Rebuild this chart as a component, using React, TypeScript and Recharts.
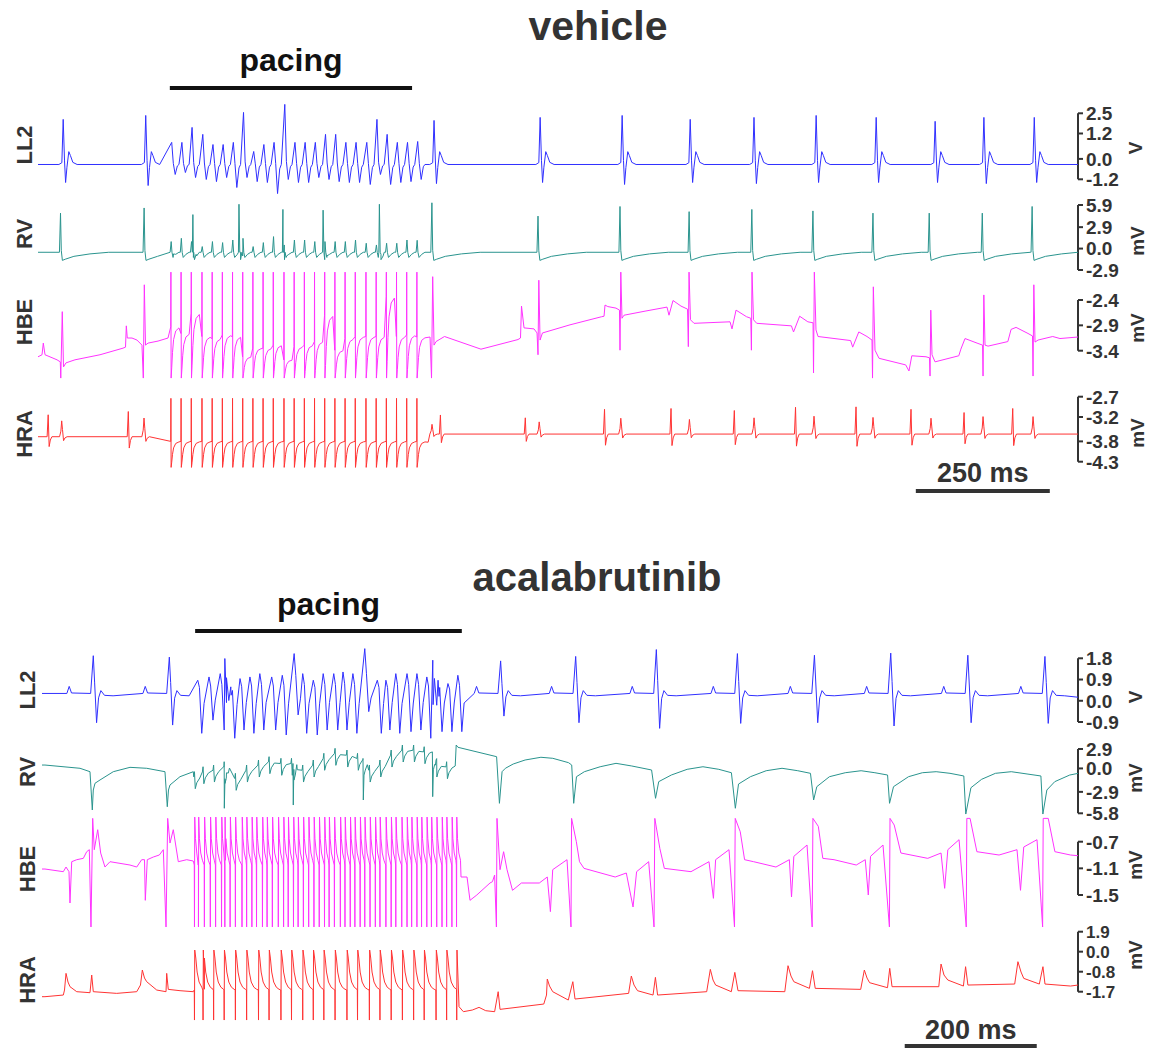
import { LineChart, Line, XAxis, YAxis, ReferenceLine } from 'recharts';

// Electrogram traces, time in ms from the left edge of each panel.
// Values are in the units of each trace's own scale (V for LL2, mV for the others).

type Pt = { t: number; v: number };

const INK = '#333333';
const FONT = '"Liberation Sans", Arial, Helvetica, sans-serif';
const BLUE = '#3030ff';
const TEAL = '#2a948e';
const MAGENTA = '#ff33ff';
const RED = '#ff3333';

// ---------------- vehicle ----------------
const vehTimeMax = 1940.6;
const vehPacingBar = [246, 698];
const vehScaleBar = [1638, 1888];
const vehPacing = [248, 267, 286, 306, 325, 344, 363, 382, 401, 420, 439, 459, 478, 497, 516, 535, 554, 573, 592, 612, 631, 650, 669, 688, 707];

const vehLL2Level = -0.37;
const vehLL2Beats = [47, 201, 739, 937, 1090, 1217, 1336, 1452, 1564, 1674, 1765, 1859];
const vehLL2Up = [2.53, 2.75, 2.47, 2.64, 2.75, 2.53, 2.64, 2.75, 2.64, 2.42, 2.64, 2.64];
const vehLL2Down = [1.01, 1.18, 1.07, 1.01, 1.12, 1.01, 1.07, 1.01, 1.01, 1.01, 1.07, 1.01];
const vehLL2PacedUp = [1.24, 1.24, 2.08, 1.69, 1.12, 1.12, 1.24, 2.92, 0.73, 1.12, 1.24, 3.37, 1.24, 1.24, 1.24, 1.69, 1.69, 1.24, 1.24, 1.24, 2.53, 1.69, 1.24, 1.24, 1.29];
const vehLL2PacedDown = [0.56, 0.45, 0.73, 0.84, 0.96, 0.73, 1.29, 0.73, 0.96, 1.01, 1.63, 0.84, 1.01, 1.01, 0.73, 0.84, 0.96, 1.01, 1.01, 1.12, 0.56, 1.12, 1.01, 0.96, 0.84];

const vehRVLevel = -0.5;
const vehRVBeats = [42, 198, 735, 933, 1086, 1215, 1332, 1446, 1558, 1663, 1762, 1855];
const vehRVUp = [5.3, 6.0, 6.7, 4.9, 6.2, 5.5, 5.8, 5.6, 5.3, 5.3, 5.3, 6.2];
const vehRVPacedUp = [1.45, 1.89, 1.45, 0.77, 1.45, 1.31, 1.66, 1.89, 0.77, 1.31, 2.12, 0.99, 1.66, 1.66, 1.45, 1.45, 1.45, 1.45, 1.66, 1.22, 0.99, 1.22, 1.22, 1.66, 1.62];
const vehRVCaptures = [289, 375, 457, 532, 637];
const vehRVCaptureUp = [5.1, 6.5, 5.8, 5.7, 6.5];

const vehHBELeft = [
  [0, -3.52], [7.5, -3.48], [9.9, -3.25], [13.1, -3.48], [35.5, -3.58], [41.6, -3.62], [42.5, -3.94], [45.3, -2.63],
  [47.6, -3.72], [52.2, -3.64], [69, -3.58], [115.7, -3.48], [158.6, -3.35], [163.3, -3.33], [164.8, -2.91], [166.6, -3.15],
  [175.4, -3.15], [184.7, -3.19], [194, -3.29], [196.5, -3.94], [198.4, -2.1], [200.6, -3.29], [205.3, -3.25], [224, -3.21],
  [242.6, -3.15],
];
const vehHBEPlateau = [-2.93, -3.06, -2.66, -3.12, -3.16, -3.09, -3.12, -3.52, -3.35, -3.35, -3.29, -3.58, -3.32, -3.29, -3.22, -2.7, -3.39, -3.16, -3.12, -3.12, -3.12, -2.33, -3.12, -3.09, -3.13];
const vehHBERight = [
  [731.5, -3.13], [734.3, -3.94], [736.5, -1.94], [739, -3.29], [742.7, -3.22], [758.5, -3.12], [826.6, -3.37], [895.7, -3.18],
  [900.3, -3.15], [902.2, -2.52], [906.9, -2.95], [925.5, -2.97], [931.2, -3.05], [933, -3.48], [934.5, -2.01], [936.8, -3.19],
  [941.3, -3.05], [992.7, -2.89], [1051.7, -2.73], [1056.2, -2.72], [1058, -2.5], [1063.3, -2.53], [1078.5, -2.56], [1085, -2.6],
  [1086, -3.39], [1087.5, -1.85], [1089.7, -2.76], [1093.5, -2.7], [1132.7, -2.62], [1173.7, -2.54], [1177.4, -2.7], [1184.9, -2.41],
  [1199.8, -2.52], [1212, -2.58], [1213.5, -3.32], [1214.8, -1.85], [1217.5, -2.79], [1224.1, -2.86], [1291.3, -2.83], [1295, -2.97],
  [1302.5, -2.6], [1322.1, -2.73], [1330, -2.76], [1331.2, -3.39], [1332.3, -1.85], [1335.1, -2.79], [1341.1, -2.86], [1405.8, -2.91],
  [1409.8, -3.03], [1421.2, -2.72], [1436.5, -2.83], [1446.2, -2.85], [1447.1, -3.84], [1448.6, -1.85], [1451.7, -2.99], [1455.5, -3.12],
  [1516.3, -3.2], [1520.2, -3.33], [1531.6, -3.03], [1546.9, -3.12], [1556.2, -3.19], [1557.2, -3.94], [1558.7, -2.14], [1561.8, -3.39],
  [1569.3, -3.55], [1619.1, -3.68], [1625.2, -3.8], [1630.5, -3.5], [1657, -3.52], [1663.5, -3.54], [1664.5, -3.9], [1665.9, -2.6],
  [1668.2, -3.48], [1673.8, -3.62], [1718.2, -3.5], [1722, -3.37], [1729.8, -3.16], [1752.2, -3.25], [1762.5, -3.29], [1763.4, -3.9],
  [1764.9, -2.3], [1767.1, -3.29], [1772.7, -3.31], [1809.7, -3.22], [1815.7, -2.98], [1825, -2.94], [1847.3, -3.06], [1855.7, -3.11],
  [1856.7, -3.9], [1858.2, -2.1], [1860.4, -3.23], [1866, -3.19], [1893.4, -3.12], [1907, -3.16], [1940.6, -3.13],
];

const vehHRABase = [[0, -3.685], [728, -3.82], [1940.6, -3.62]];
const vehHRAAtrial = [19, 168.5, 750.9, 909.3, 1057.1, 1181.2, 1299.3, 1413.5, 1526.4, 1629, 1728, 1818.8];
const vehHRAAtrialAmp = [0.54, 0.62, 0.47, 0.4, 0.61, 0.63, 0.58, 0.66, 0.67, 0.61, 0.53, 0.63];
const vehHRAFar = [44.2, 197.8, 735.2, 935.2, 1087.5, 1215.5, 1336.1, 1448, 1558.1, 1666.3, 1763.4, 1856.7];
const vehHRAFarAmp = [0.39, 0.46, 0.24, 0.3, 0.39, 0.36, 0.4, 0.44, 0.41, 0.39, 0.43, 0.43];
const vehHRALevel = [-3.685, -3.685, -3.62, -3.62, -3.62, -3.62, -3.62, -3.62, -3.62, -3.62, -3.62, -3.62];

// ---------------- acalabrutinib ----------------
const acaTimeMax = 1569.5;
const acaPacingBar = [232, 636];
const acaScaleBar = [1307, 1507];
const acaPacing = [231, 244, 260, 276, 293, 310, 328, 344, 362, 378, 395, 411, 427, 444, 462, 478, 496, 512, 529, 546, 563, 579, 597, 613];

const acaLL2Level = 0.31;
const acaLL2Beats = [77.7, 192.9, 694.8, 808.5, 930.7, 1053.5, 1170.2, 1285.8, 1402.6, 1519.4];
const acaLL2Up = [1.6, 1.54, 1.38, 1.57, 1.86, 1.69, 1.62, 1.71, 1.62, 1.57];
const acaLL2Down = [1.24, 1.34, 0.96, 1.24, 1.48, 1.27, 1.24, 1.38, 1.24, 1.27];
const acaLL2Paced = [236, 253, 270, 277, 286, 300, 315, 330, 348, 364, 382, 395, 411, 426, 442, 456, 471, 489, 508, 521, 536, 553, 568, 583, 592, 600, 615, 630];
const acaLL2PacedUp = [0.56, 0.7, 0.84, 1.48, 0.28, 0.63, 0.7, 0.84, 0.7, 0.77, 1.69, 0.84, 0.56, 0.84, 0.84, 0.91, 0.84, 1.9, 0.56, 0.56, 0.84, 0.84, 0.84, 0.7, 1.41, 0.56, 0.42, 0.77];
const acaLL2PacedDown = [1.69, 1.13, 1.55, 0.3, 1.9, 1.55, 1.69, 1.55, 1.55, 1.76, 0.91, 1.69, 1.76, 1.55, 1.55, 1.55, 1.69, 0.77, 1.69, 1.55, 1.69, 1.62, 1.55, 1.9, 0.5, 1.62, 1.62, 1.62];

const acaRVLeft = [
  [0, 0.73], [4.5, 0.73], [57.6, 0.29], [72.7, -0.17], [76.2, -5.35], [77.7, -2.65], [80.3, -1.74], [87.9, -1.29], [108, -0.17],
  [133.3, 0.42], [158.6, 0.29], [186.3, -0.17], [189.8, -4.91], [191.6, -2.65], [193.9, -1.97], [209, -0.85], [229.2, -0.17],
];
const acaRVToothLevel = [-0.87, -0.2, 0.03, 0.48, -1.09, 0.03, 0.71, 1.16, 0.94, 0.94, 0.03, 0.71, 1.62, 2.29, 2.06, 1.62, 0.03, 0.71, 2.06, 2.74, 2.74, 2.51, 0.71, 0.48];
const acaRVCaptures = [276.2, 380.7, 486.8, 591.9];
const acaRVCaptureLevel = [0.48, 0.94, 1.62, 2.51];
const acaRVCaptureDepth = [5.6, 5.62, 5.62, 6.06];
const acaRVRight = [
  [626, 0.6], [627.5, 3.44], [630.2, 3.13], [688.7, 1.86],
  [693, -4.45], [697, -0.17], [702, 0.29], [713.9, 0.87], [731.9, 1.41], [755.8, 1.78], [773.8, 1.64], [797.7, 1.05], [802.5, 0.73],
  [805.5, -4.45], [809.7, -0.85], [821.7, -0.17], [845.6, 0.5], [869.6, 0.96], [893.5, 0.6], [923.5, 0.06],
  [929.5, -3.77], [934.3, -1.52], [953.4, -0.62], [977.4, 0.15], [1001.3, 0.5], [1025.3, 0.15], [1044.4, -0.31],
  [1050.4, -5.12], [1055.2, -1.84], [1073.2, -0.85], [1097.1, -0.04], [1121.1, 0.29], [1145, -0.04], [1164.2, -0.39],
  [1169, -4.0], [1173.8, -2.2], [1192.9, -0.85], [1216.9, -0.31], [1240.9, -0.04], [1261.8, -0.31], [1281, -0.62],
  [1284, -4.45], [1290, -2.2], [1312.7, -0.85], [1333.7, -0.31], [1354.6, -0.17], [1375.6, -0.39], [1396.5, -0.75],
  [1399.5, -5.9], [1407.3, -2.34], [1423.5, -1.2], [1444.4, -0.39], [1468.4, -0.17], [1492.3, -0.48], [1513.3, -0.75],
  [1516.3, -5.9], [1522.3, -2.65], [1534.3, -1.52], [1557, -0.62], [1569.5, -0.4],
];

const acaHBELeft = [
  [0, -1.11], [4.5, -1.11], [32.3, -1.15], [36.4, -1.08], [40.9, -1.15], [42.4, -1.62], [45, -1.0], [52.6, -0.97], [62.6, -0.95],
  [67.7, -0.85], [71.7, -0.82], [74.2, -1.98], [76.8, -0.35], [79.2, -0.82], [84.4, -0.52], [88.9, -0.87], [95.4, -1.08], [103, -1.0],
  [133.3, -1.05], [143.5, -1.08], [151, -0.97], [155.3, -0.97], [156.5, -1.58], [159.5, -0.97], [168.6, -0.93], [177.7, -0.9],
  [183.8, -0.82], [187.9, -1.98], [190.4, -0.35], [193.9, -0.72], [198.9, -0.52], [206.5, -1.0], [219.2, -0.97], [229.2, -0.99],
];
const acaHBELines = [231, 237, 246, 255, 263, 272, 277, 285, 293, 303, 310, 318, 325, 334, 341, 349, 358, 366, 373, 381, 388, 396, 404, 412, 420, 428, 435, 443, 452, 459, 467, 474, 482, 489, 497, 505, 512, 521, 529, 536, 545, 553, 560, 568, 575, 583, 590, 598, 606, 613, 621, 628];
const acaHBERight = [
  [634.8, -1.23], [643.9, -1.23], [648.4, -1.58], [658.7, -1.5], [678.7, -1.32], [682.4, -1.3], [685.7, -1.2], [688.4, -1.98],
  [689.3, -0.35], [693.9, -1.12], [699.3, -0.85], [704.5, -1.12], [712.8, -1.43], [726.3, -1.32], [753.4, -1.32], [765.5, -1.23],
  [770.2, -1.75], [773.7, -1.12], [795.4, -0.97], [801.4, -1.98], [802.3, -0.35], [809.5, -0.7], [814.3, -1.0], [821.1, -1.1],
  [868.4, -1.23], [885.2, -1.17], [895.4, -1.68], [900.8, -1.15], [919.1, -1.0], [927.2, -1.98], [928.4, -0.35], [936, -0.8],
  [942.8, -1.1], [983.2, -1.15], [1010.5, -1.0], [1017.2, -1.55], [1020.5, -0.97], [1040.8, -0.82], [1049.1, -1.98], [1050.2, -0.35],
  [1057.8, -0.55], [1064.4, -0.97], [1078.1, -1.0], [1111.9, -1.08], [1132.2, -0.97], [1135.5, -1.53], [1139, -0.92], [1159, -0.75],
  [1166.8, -1.98], [1167.9, -0.35], [1176.1, -0.47], [1182.9, -0.95], [1199.9, -0.97], [1233.6, -1.05], [1247.2, -0.97], [1251.8, -1.5],
  [1255.2, -0.92], [1274.1, -0.75], [1283.8, -1.98], [1284.7, -0.35], [1291.1, -0.45], [1301.2, -0.87], [1341.9, -0.95], [1362, -0.87],
  [1367.5, -1.4], [1372.3, -0.82], [1389.3, -0.67], [1400.2, -1.98], [1401.1, -0.35], [1406, -0.35], [1416.3, -0.85], [1449.9, -0.9],
  [1477.1, -0.82], [1482.4, -1.43], [1487.3, -0.78], [1507.4, -0.67], [1515.9, -1.98], [1516.8, -0.35], [1524.4, -0.35], [1534.5, -0.85],
  [1558.2, -0.9], [1569.5, -0.91],
];

const acaHRALeft = [
  [0, -2.0], [4.5, -2.0], [32.3, -1.9], [34.1, -1.6], [36.4, -0.6], [39.4, -1.12], [42.4, -1.4], [52.6, -1.7], [72.7, -1.76],
  [75.3, -0.7], [77.7, -1.7], [113.2, -1.8], [143.5, -1.7], [149.2, -1.3], [152, -0.4], [155.3, -0.88], [158.6, -1.1], [173.8, -1.6],
  [187.9, -1.7], [188.9, -0.6], [191.3, -1.56], [209.1, -1.64], [229.2, -1.7],
];
const acaHRARight = [
  [628, -1.6], [628.3, -3.4], [628.7, 0.8], [631.8, -2.6], [638.4, -2.9], [651.9, -2.8], [662.1, -2.64], [672.2, -2.84], [685.7, -2.9],
  [691.1, -1.7], [693.9, -2.76], [760.2, -2.44], [764.3, -1.9], [765.5, -0.94], [768.9, -1.36], [773.7, -1.7], [797.3, -2.2],
  [804.2, -1.1], [807.5, -2.14], [888.7, -1.8], [892.8, -0.76], [896.9, -1.3], [902.2, -1.64], [925.7, -1.9], [929.3, -0.84],
  [932.6, -1.9], [1007, -1.7], [1012.5, -0.36], [1016.6, -1.0], [1020.5, -1.3], [1044.3, -1.7], [1049.6, -0.54], [1054.4, -1.64],
  [1125.3, -1.7], [1130.2, -0.14], [1134.7, -0.76], [1139, -1.1], [1162.6, -1.5], [1167.3, -0.44], [1171.4, -1.5], [1240.3, -1.56],
  [1245.8, -0.4], [1249.9, -0.88], [1253.8, -1.16], [1280.9, -1.46], [1284.3, -0.3], [1287.8, -1.4], [1358.6, -1.4], [1362, -0.04],
  [1366.5, -0.7], [1372.3, -1.0], [1395.9, -1.36], [1399.2, -0.2], [1402.7, -1.3], [1473.6, -1.24], [1478.5, 0.1], [1483.2, -0.52],
  [1487.3, -0.9], [1510.9, -1.24], [1516.4, -0.2], [1519.5, -1.24], [1558.2, -1.36], [1569.5, -1.3],
];

// beat shapes: [dt, share of up, share of down, fixed offset]
const vehLL2Shape = [[-8, 0, 0, 0], [-2.5, 0.04, 0, 0], [0, 1, 0, 0], [2.5, 0.08, 0, 0], [4.5, 0, 1, 0], [7, 0, 0.15, 0], [10.5, 0, 0, 0.72], [13.5, 0, 0, 0.5], [18, 0, 0, 0.12], [26, 0, 0, 0]];
const vehLL2PacedShape = [[1.5, 1, 0, 0], [4.5, 0.05, 0, 0], [8, 0, 1, 0], [12, 0, 0.15, 0], [15, 0, 0, 0]];
const vehRVShape = [[-2, 0, 0, 0], [0, 1, 0, 0], [1.5, 0.04, 0, 0], [3.5, 0, 1, 0], [9, 0, 0.85, 0], [25, 0, 0.5, 0], [55, 0, 0.2, 0], [90, 0, 0, 0]];
const vehRVPacedShape = [[-1.5, 0, 0, 0], [0.5, 1, 0, 0], [2, 0, 0, 0], [4, 0, 1, 0], [9, 0, 0.4, 0], [15, 0, 0, 0]];
const vehRVCaptureShape = [[-1, 0, 0, 0], [0, 1, 0, 0], [1.5, 0, 0, 0], [3, 0, 1, 0], [7, 0, 0.5, 0]];
const atrialShape = [[-2, 0, 0, 0], [0, 1, 0, 0], [1.8, -0.45, 0, 0], [4, -0.15, 0, 0], [7, 0, 0, 0]];
const farFieldShape = [[-4, 0, 0, 0], [-1.5, 0.35, 0, 0], [0, 1, 0, 0], [1.5, 0.45, 0, 0], [3.5, -0.25, 0, 0], [6, -0.08, 0, 0], [10, 0, 0, 0]];
const acaLL2Shape = [[-40, 0, 0, 0], [-36.5, 0, 0, 0.3], [-33, 0, 0, 0.02], [-4, 0, 0, 0], [0, 1, 0, 0], [2, 0.3, 0, 0], [5, 0, 1, 0], [8, 0, 0.15, 0], [11.5, 0, 0, 0.12], [17, 0, 0, -0.08], [30, 0, 0, -0.1]];
const acaLL2PacedShape = [[0, 1, 0, 0], [2.5, 0.45, 0, 0], [6, 0, 1, 0], [9.5, 0, 0.25, 0]];
const acaRVToothShape = [[-1, 0, 0, 0], [0, 1, 0, 0], [1.2, 0, 1, 0], [3.5, 0, 0.5, 0], [8, 0, 0.1, 0]];
const acaRVCaptureShape = [[-0.5, 0, 0, 0], [0, 0, 1, 0], [1, 0, 0.4, 0], [3, 0, 0.28, 0], [6, 0, 0.15, 0]];
// relaxation after a stimulus artefact: [dt, fraction of the jump still left]
const relaxSlow = [[1.5, 0.8], [3, 0.5], [5, 0.25], [9, 0.08], [15, 0.02]];
const relaxFast = [[1.5, 0.55], [3.5, 0.25], [6, 0.1]];
const relaxHRA = [[2, 0.8], [4, 0.45], [7, 0.2], [11, 0.07], [15, 0.02]];

const pick = (x: number | number[], i: number) => (Array.isArray(x) ? x[i] : x);

function place(shape: number[][], times: number[], base: number | number[], up: number | number[] = 0, down: number | number[] = 0): Pt[] {
  const out: Pt[] = [];
  times.forEach((t, i) => {
    const b = pick(base, i);
    const u = pick(up, i);
    const d = pick(down, i);
    shape.forEach(([dt, cu, cd, c0]) => out.push({ t: t + dt, v: b + cu * u - cd * d + c0 }));
  });
  return out;
}

function artefact(times: number[], level: number | number[], first: number, second: number, relax: number[][]): Pt[] {
  const out: Pt[] = [];
  times.forEach((t, i) => {
    const L = pick(level, i);
    out.push({ t: t - 0.3, v: L }, { t, v: first }, { t: t + 0.4, v: second });
    relax.forEach(([dt, f]) => out.push({ t: t + dt, v: L + f * (second - L) }));
  });
  return out;
}

const pts = (rows: number[][]): Pt[] => rows.map(([t, v]) => ({ t, v }));
const trace = (...parts: Pt[][]): Pt[] => parts.flat().sort((a, b) => a.t - b.t);

const vehLL2 = trace(
  pts([[0, vehLL2Level], [vehTimeMax, vehLL2Level]]),
  place(vehLL2Shape, vehLL2Beats, vehLL2Level, vehLL2Up, vehLL2Down),
  place(vehLL2PacedShape, vehPacing, vehLL2Level, vehLL2PacedUp, vehLL2PacedDown),
);
const vehRV = trace(
  pts([[0, vehRVLevel], [vehTimeMax, vehRVLevel]]),
  place(vehRVShape, vehRVBeats, vehRVLevel, vehRVUp, 1.1),
  place(vehRVPacedShape, vehPacing, vehRVLevel, vehRVPacedUp, 0.7),
  place(vehRVCaptureShape, vehRVCaptures, vehRVLevel, vehRVCaptureUp, 1.0),
);
const vehHBE = trace(pts(vehHBELeft), artefact(vehPacing, vehHBEPlateau, -1.85, -3.94, relaxSlow), pts(vehHBERight));
const vehHRA = trace(
  pts(vehHRABase),
  place(atrialShape, vehHRAAtrial, vehHRALevel, vehHRAAtrialAmp),
  place(farFieldShape, vehHRAFar, vehHRALevel, vehHRAFarAmp),
  artefact(vehPacing, -3.8, -2.74, -4.44, relaxSlow),
);

const acaLL2 = trace(
  pts([[0, acaLL2Level], [acaTimeMax, 0.15]]),
  place(acaLL2Shape, acaLL2Beats, acaLL2Level, acaLL2Up, acaLL2Down),
  place(acaLL2PacedShape, acaLL2Paced, acaLL2Level, acaLL2PacedUp, acaLL2PacedDown),
);
const acaRV = trace(
  pts(acaRVLeft),
  place(acaRVToothShape, acaPacing, acaRVToothLevel, 0.7, 1.6),
  place(acaRVCaptureShape, acaRVCaptures, acaRVCaptureLevel, 0, acaRVCaptureDepth),
  pts(acaRVRight),
);
const acaHBE = trace(pts(acaHBELeft), artefact(acaHBELines, -1.05, -1.98, -0.33, relaxFast), pts(acaHBERight));
const acaHRA = trace(pts(acaHRALeft), artefact(acaPacing, -1.6, -3.4, 0.8, relaxHRA), pts(acaHRARight));

// ---------------- layout ----------------
const CHART_LEFT = 30;
const CHART_WIDTH = 1121;
const AXIS_WIDTH = 73;

interface Bar { span: number[]; px: number; text: string; size: number; offset: number; color: string }
interface RowSpec {
  name: string; data: Pt[]; color: string; ticks: number[];
  top: number; bottom: number; hiPx: number; loPx: number;
  plotLeft: number; tMax: number; mt?: number; mb?: number; bar?: Bar;
  labelShift?: number[]; // px nudge of each tick (mark and label), same order as ticks
  tickFont?: number;
}

const rows: RowSpec[] = [
  { name: 'vLL2', data: vehLL2, color: BLUE, ticks: [2.5, 1.2, 0, -1.2], top: 103, bottom: 196, hiPx: 113.3, loPx: 179.3, plotLeft: 38, tMax: vehTimeMax, mt: 63,
    labelShift: [0, -3, 1, 0],
    bar: { span: vehPacingBar, px: 88, text: 'pacing', size: 32, offset: 17, color: '#111' } },
  { name: 'vRV', data: vehRV, color: TEAL, ticks: [5.9, 2.9, 0, -2.9], top: 200, bottom: 272, hiPx: 205, loPx: 270, plotLeft: 38, tMax: vehTimeMax },
  { name: 'vHBE', data: vehHBE, color: MAGENTA, ticks: [-2.4, -2.9, -3.4], top: 271, bottom: 379, hiPx: 300, loPx: 350.7, plotLeft: 38, tMax: vehTimeMax },
  { name: 'vHRA', data: vehHRA, color: RED, ticks: [-2.7, -3.2, -3.8, -4.3], top: 396, bottom: 468, hiPx: 396.7, loPx: 461.7, plotLeft: 38, tMax: vehTimeMax, mb: 30,
    bar: { span: vehScaleBar, px: 491, text: '250 ms', size: 27, offset: 9, color: INK } },
  { name: 'aLL2', data: acaLL2, color: BLUE, ticks: [1.8, 0.9, 0, -0.9], top: 646, bottom: 740, hiPx: 658.3, loPx: 722, plotLeft: 42, tMax: acaTimeMax, mt: 60,
    bar: { span: acaPacingBar, px: 631, text: 'pacing', size: 32, offset: 16, color: '#111' } },
  { name: 'aRV', data: acaRV, color: TEAL, ticks: [2.9, 0, -2.9, -5.8], top: 744, bottom: 816, hiPx: 749, loPx: 813.3, plotLeft: 42, tMax: acaTimeMax,
    labelShift: [0, -2, 0, 0] },
  { name: 'aHBE', data: acaHBE, color: MAGENTA, ticks: [-0.7, -1.1, -1.5], top: 816, bottom: 927, hiPx: 841.7, loPx: 895, plotLeft: 42, tMax: acaTimeMax },
  { name: 'aHRA', data: acaHRA, color: RED, ticks: [1.9, 0, -0.8, -1.7], top: 930, bottom: 1021, hiPx: 931.7, loPx: 991.7, plotLeft: 42, tMax: acaTimeMax, mb: 28,
    labelShift: [0, -11.7, -5, 0], tickFont: 17,
    bar: { span: acaScaleBar, px: 1046, text: '200 ms', size: 27, offset: 7, color: INK } },
];

function TraceRow({ spec }: { spec: RowSpec }) {
  const { data, color, ticks, top, bottom, hiPx, loPx, plotLeft, tMax, bar, labelShift } = spec;
  const mt = spec.mt ?? 10;
  const mb = spec.mb ?? 10;
  const fontSize = spec.tickFont ?? 19;
  const hi = Math.max(...ticks);
  const lo = Math.min(...ticks);
  const k = (loPx - hiPx) / (hi - lo);
  const toValue = (px: number) => hi + (hiPx - px) / k;
  const height = bottom - top + mt + mb;
  const barY = bar ? toValue(bar.px) : 0;

  // tick mark + label; tickSize 5 and tickMargin 3 put the label 8px right of the bracket
  const renderTick = (p: any) => {
    const value = Number(p.payload.value);
    const shift = labelShift ? labelShift[ticks.indexOf(value)] ?? 0 : 0;
    const y = p.y + shift;
    return (
      <g>
        <line x1={p.x - 8} x2={p.x - 3} y1={y} y2={y} stroke={INK} strokeWidth={2} />
        <text x={p.x} y={y} dy="0.36em" textAnchor="start" fill={INK} fontSize={fontSize} fontWeight={700}>
          {value.toFixed(1)}
        </text>
      </g>
    );
  };

  return (
    <div style={{ position: 'absolute', left: CHART_LEFT, top: top - mt }}>
      <LineChart width={CHART_WIDTH} height={height} data={data} margin={{ top: mt, right: 0, bottom: mb, left: plotLeft - CHART_LEFT }}>
        <XAxis dataKey="t" type="number" domain={[0, tMax]} hide allowDataOverflow />
        <YAxis
          orientation="right"
          type="number"
          domain={[toValue(bottom), toValue(top)]}
          allowDataOverflow
          ticks={ticks}
          interval={0}
          width={AXIS_WIDTH}
          axisLine={false}
          tickLine={false}
          tickSize={5}
          tickMargin={3}
          tick={renderTick}
        />
        <ReferenceLine segment={[{ x: tMax, y: hi }, { x: tMax, y: lo }]} stroke={INK} strokeWidth={2} ifOverflow="visible" />
        {bar && (
          <ReferenceLine
            segment={[{ x: bar.span[0], y: barY }, { x: bar.span[1], y: barY }]}
            stroke={bar.color}
            strokeWidth={4}
            ifOverflow="visible"
            label={{ value: bar.text, position: 'top', offset: bar.offset, fill: bar.color, fontSize: bar.size, fontWeight: 700 }}
          />
        )}
        <Line type="linear" dataKey="v" stroke={color} strokeWidth={1} dot={false} isAnimationActive={false} />
      </LineChart>
    </div>
  );
}

function Caption({ text, x, y, size, rotate }: { text: string; x: number; y: number; size: number; rotate?: boolean }) {
  return (
    <div
      style={{
        position: 'absolute', left: x, top: y, transform: `translate(-50%, -50%)${rotate ? ' rotate(-90deg)' : ''}`,
        fontSize: size, fontWeight: 700, lineHeight: 1, whiteSpace: 'nowrap', color: INK,
      }}
    >
      {text}
    </div>
  );
}

const rowLabels = [
  { text: 'LL2', x: 24.5, y: 145 }, { text: 'RV', x: 24.5, y: 234 }, { text: 'HBE', x: 24.5, y: 322 }, { text: 'HRA', x: 24.5, y: 434 },
  { text: 'LL2', x: 28, y: 690 }, { text: 'RV', x: 28, y: 772 }, { text: 'HBE', x: 28, y: 869 }, { text: 'HRA', x: 28, y: 980 },
];
const unitLabels = [
  { text: 'V', x: 1135, y: 148 }, { text: 'mV', x: 1137, y: 241 }, { text: 'mV', x: 1137, y: 328 }, { text: 'mV', x: 1137, y: 433 },
  { text: 'V', x: 1135, y: 697 }, { text: 'mV', x: 1135, y: 778 }, { text: 'mV', x: 1135, y: 865 }, { text: 'mV', x: 1135, y: 955 },
];

export default function App() {
  return (
    <div style={{ position: 'absolute', left: 0, top: 0, width: 1151, height: 1049, background: '#fff', fontFamily: FONT, overflow: 'hidden' }}>
      <style>{'body{margin:0;overflow:hidden}'}</style>
      <Caption text="vehicle" x={598} y={26} size={41} />
      <Caption text="acalabrutinib" x={597} y={577} size={40} />
      {rowLabels.map((l, i) => <Caption key={'r' + i} text={l.text} x={l.x} y={l.y} size={22} rotate />)}
      {unitLabels.map((l, i) => <Caption key={'u' + i} text={l.text} x={l.x} y={l.y} size={19} rotate />)}
      {rows.map((r) => <TraceRow key={r.name} spec={r} />)}
    </div>
  );
}
